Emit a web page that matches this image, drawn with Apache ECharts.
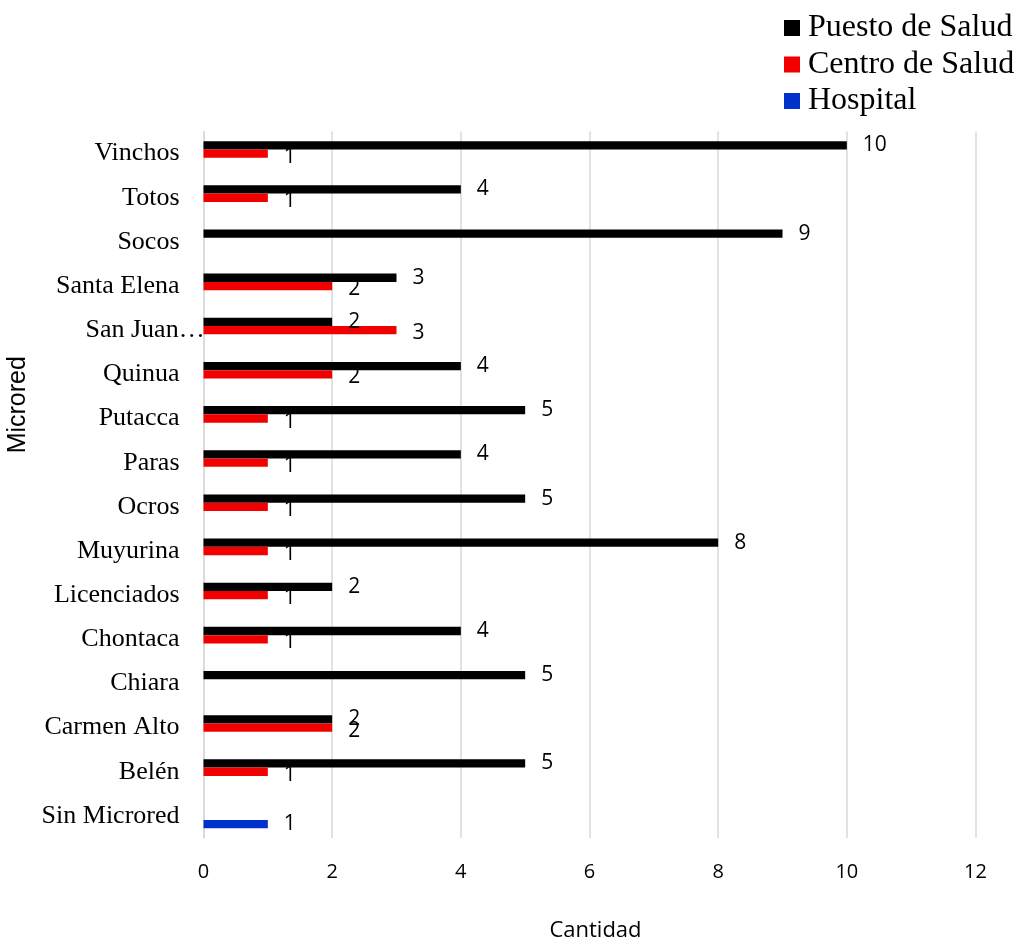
<!DOCTYPE html>
<html>
<head>
<meta charset="utf-8">
<script src="https://cdn.jsdelivr.net/npm/echarts@6/dist/echarts.min.js"></script>
<style>
  html, body { margin: 0; padding: 0; background: #ffffff; }
  #chart { width: 1018px; height: 940px; }
</style>
</head>
<body>
<div id="chart"></div>
<script>
// Microredes, listed from top to bottom
const categories = [
  'Vinchos', 'Totos', 'Socos', 'Santa Elena', 'San Juan Bautista', 'Quinua',
  'Putacca', 'Paras', 'Ocros', 'Muyurina', 'Licenciados', 'Chontaca',
  'Chiara', 'Carmen Alto', 'Belén', 'Sin Microred'
];
const seriesNames = ['Puesto de Salud', 'Centro de Salud', 'Hospital'];
const puestoDeSalud = [10, 4, 9, 3, 2, 4, 5, 4, 5, 8, 2, 4, 5, 2, 5, 0];
const centroDeSalud = [1, 1, 0, 2, 3, 2, 1, 1, 1, 1, 1, 1, 0, 2, 1, 0];
const hospital      = [0, 0, 0, 0, 0, 0, 0, 0, 0, 0, 0, 0, 0, 0, 0, 1];
const xTicks = { min: 0, max: 12, interval: 2 };

const colors = ['#000000', '#f20000', '#0033cc'];
const sansFont = '"Open Sans", "Noto Sans", sans-serif';
const serifFont = '"Liberation Serif", "DejaVu Serif", serif';

function valueLabel(offsetY) {
  return {
    show: true,
    position: 'right',
    distance: 16,
    offset: [0, offsetY],
    color: '#000',
    fontFamily: sansFont,
    fontSize: 21,
    formatter: p => (p.value ? String(p.value) : '')
  };
}

function barSeries(name, data, color, offsetY) {
  return {
    name,
    type: 'bar',
    data,
    barWidth: 8.3,
    barGap: '0%',
    itemStyle: { color },
    label: valueLabel(offsetY),
    emphasis: { disabled: true }
  };
}

const chart = echarts.init(document.getElementById('chart'), null, { renderer: 'canvas' });

chart.setOption({
  animation: false,
  backgroundColor: '#ffffff',
  legend: {
    orient: 'vertical',
    left: 784,
    top: 12,
    padding: 0,
    icon: 'rect',
    itemWidth: 16,
    itemHeight: 16,
    itemGap: 4.5,
    textStyle: {
      fontFamily: serifFont,
      fontSize: 32,
      lineHeight: 32,
      color: '#000',
      padding: [0, 0, 0, 3]
    },
    data: seriesNames
  },
  grid: {
    left: 203.5,
    right: 42.5,
    top: 131.5,
    bottom: 102,
    containLabel: false,
    outerBoundsMode: 'none'
  },
  xAxis: {
    type: 'value',
    min: xTicks.min,
    max: xTicks.max,
    interval: xTicks.interval,
    name: 'Cantidad',
    nameLocation: 'middle',
    nameGap: 82,
    nameTextStyle: { fontFamily: sansFont, fontSize: 22, color: '#000', padding: [0, 0, 0, 12] },
    axisLine: { show: false },
    axisTick: { show: false },
    axisLabel: { fontFamily: sansFont, fontSize: 20, color: '#000', margin: 24 },
    splitLine: { show: true, lineStyle: { color: '#d9d9d9', width: 1.5 } }
  },
  yAxis: {
    type: 'category',
    inverse: true,
    data: categories,
    name: 'Microred',
    nameLocation: 'middle',
    nameRotate: 90,
    nameGap: 164,
    nameTextStyle: {
      fontFamily: '"Liberation Sans", Arial, sans-serif',
      fontSize: 25,
      color: '#000',
      padding: [0, 0, 0, 160]
    },
    axisLine: { show: true, lineStyle: { color: '#d9d9d9', width: 1.5 } },
    axisTick: { show: false },
    axisLabel: {
      fontFamily: serifFont,
      fontSize: 26,
      color: '#000',
      margin: 24,
      // long names are cut with an ellipsis and allowed to run past their slot
      formatter: v => (v.length > 12 ? '{cut|' + v.split(' ').slice(0, 2).join(' ') + '…}' : v),
      rich: {
        cut: { fontFamily: serifFont, fontSize: 26, color: '#000', width: 94, align: 'left' }
      }
    }
  },
  series: [
    barSeries(seriesNames[0], puestoDeSalud, colors[0], 0),
    barSeries(seriesNames[1], centroDeSalud, colors[1], 3),
    barSeries(seriesNames[2], hospital, colors[2], 0)
  ]
});
</script>
</body>
</html>
